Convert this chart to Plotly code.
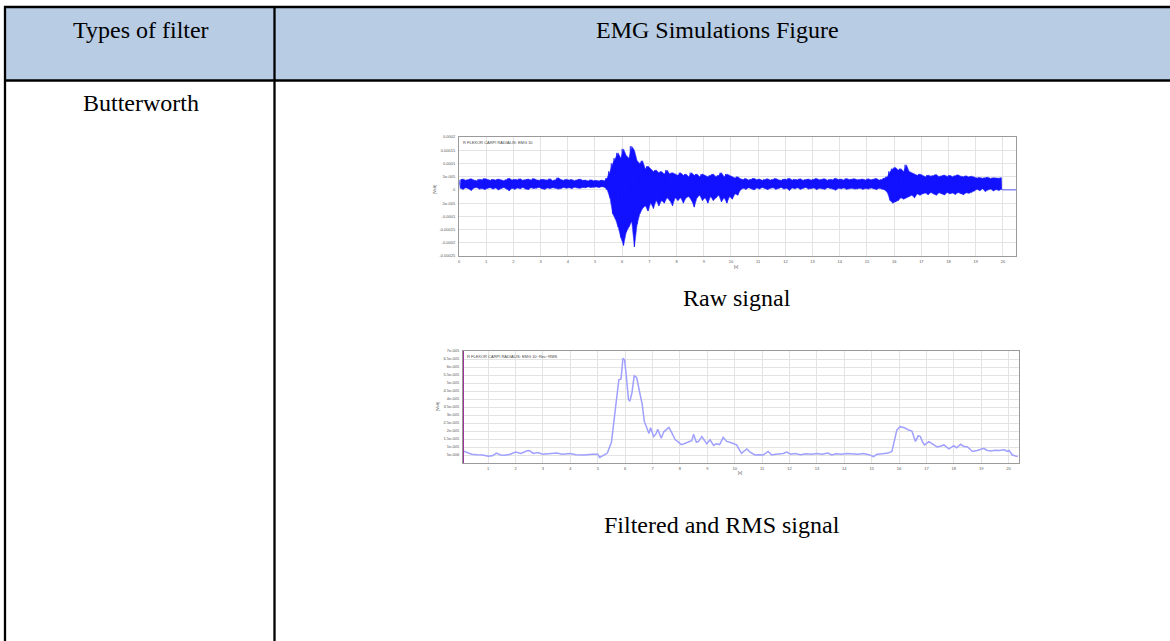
import plotly.graph_objects as go

# ---------------- data ----------------
# Raw EMG: per-0.1 s bin upper / lower envelope (units 1e-5 V), bins start at 0.0 s
raw_bin_start = [round(i * 0.1, 1) for i in range(200)]
raw_hi = [
    # 0.0 - 5.3 s baseline
    3.8,4.1,3.6,3.9,4.2,3.7,3.5,4.0,3.8,4.3, 3.9,3.6,4.0,3.7,4.1,3.8,3.5,3.9,4.4,3.7,
    4.0,3.8,4.2,3.6,3.9,4.1,3.7,4.3,3.8,3.6, 4.0,3.9,3.7,4.2,3.5,3.8,4.6,3.9,3.6,4.0,
    3.7,3.9,3.5,3.8,4.1,3.6,3.7,3.4,3.8,3.5, 3.6,3.4,3.7,3.5,
    # 5.4 - 6.9 s burst
    4.5,7.0,10.0,12.0,14.0,12.0, 15.5,13.0,12.0,16.5,15.0,11.0,10.0,11.0,8.0,9.0,
    # 7.0 - 10.3 s decay
    8.0,7.0,7.5,6.5,7.0,6.0,7.5,6.0,6.5,6.0, 5.5,6.5,5.5,6.0,5.0,6.5,5.5,6.0,5.0,6.0,
    5.5,5.0,5.5,6.0,5.0,5.5,6.5,5.0,6.0,5.5, 5.0,4.5,5.0,4.2,
    # 10.4 - 15.6 s baseline
    3.9,4.3,3.7,4.0,4.4,3.8, 4.1,3.6,4.0,4.2,3.7,3.9,4.3,3.8,3.6,4.1,
    3.9,4.4,3.7,4.0,3.8,4.2,3.6,3.9,4.1,3.7, 4.0,4.3,3.8,3.9,4.2,3.6,4.0,3.8,4.4,3.9,
    4.1,3.7,4.3,3.9,4.0,4.2,3.8,3.9,4.1,3.7, 4.2,3.8,4.0,4.3,3.7,3.9,4.5,
    # 15.7 - 16.9 s second burst
    5.0,7.0,8.0,8.5,7.5,8.0,7.0,9.5,7.0,6.5,6.0,5.5,6.0,
    # 17.0 - 18.9 s
    5.5,5.0,5.6,5.2,5.4,5.8,5.0,5.3,5.6,5.1, 5.5,5.0,5.4,5.7,5.2,5.0,5.3,4.9,5.2,4.8,
    # 19.0 - 19.9 s
    4.5,4.7,4.4,4.6,4.8,4.3,4.6,4.5,4.4,4.6]
raw_lo = [
    0.6,0.2,0.8,0.4,-0.2,0.7,0.9,0.3,0.5,0.1, 0.6,0.8,0.3,0.7,0.0,0.5,0.9,0.4,-0.3,0.6,
    0.2,0.7,0.4,0.9,0.3,0.1,0.8,0.5,0.6,0.9, 0.4,0.2,0.7,0.5,0.8,0.6,0.3,0.5,0.9,0.6,
    0.8,0.5,1.0,0.7,0.6,0.9,0.8,1.1,0.9,1.0, 1.1,0.9,1.2,1.0,
    0.0,-3.0,-9.0,-11.0,-14.0,-18.0, -21.0,-16.0,-14.0,-12.0,-21.5,-13.0,-9.0,-7.0,-6.0,-8.0,
    -5.0,-7.0,-4.0,-6.0,-4.0,-5.0,-3.0,-4.0,-6.0,-3.0, -4.0,-3.0,-5.0,-3.0,-2.5,-4.0,-6.5,-3.0,-2.0,-4.0,
    -3.0,-5.0,-2.5,-4.0,-3.0,-2.0,-4.5,-3.0,-5.0,-2.5, -3.5,-1.5,-2.0,0.0,
    0.6,0.2,0.8,0.4,0.0,0.7, 0.3,0.9,0.5,0.1,0.6,0.8,0.2,0.5,0.9,0.3,
    0.6,-0.2,0.7,0.4,0.8,0.2,0.6,0.9,0.3,0.5, 0.7,0.1,0.6,0.4,0.2,0.8,0.5,0.3,-0.1,0.6,
    0.4,0.7,0.2,0.5,0.6,0.3,0.4,0.6,0.2,0.5, 0.3,0.7,0.4,0.1,0.6,0.3,0.0,
    -1.0,-4.0,-5.0,-4.5,-4.0,-3.0,-3.5,-3.0,-2.5,-2.0,-3.0,-1.5,-2.0,
    -1.5,-1.2,-1.8,-1.0,-1.6,-2.0,-1.1,-1.4,-1.9,-1.0, -1.5,-1.2,-1.7,-1.0,-1.4,-1.8,-1.1,-1.3,-0.9,-0.5,
    0.2,-0.3,0.4,-0.6,0.0,0.3,-0.4,0.1,-0.2,0.2]
raw_tail_t = [20.0, 20.48]
raw_tail_v = [0.0, 0.0]

# RMS envelope (units 1e-5 V)
rms_t = [0.08,0.2,0.4,0.6,0.8,1.0,1.15,1.3,1.45,1.6,1.8,2.0,2.2,2.4,2.5,2.65,2.8,3.0,3.2,3.5,
         3.7,4.0,4.2,4.5,4.8,5.0,5.07,5.2,5.35,5.5,5.6,5.7,5.77,5.85,5.92,5.98,6.05,6.12,6.17,6.25,
         6.33,6.42,6.52,6.62,6.7,6.8,6.87,6.93,7.04,7.12,7.19,7.26,7.32,7.41,7.5,7.6,7.7,7.83,7.95,8.05,
         8.15,8.31,8.43,8.5,8.6,8.68,8.8,8.9,8.98,9.1,9.23,9.32,9.45,9.58,9.71,9.85,10.07,10.18,10.25,10.35,
         10.44,10.55,10.74,10.9,11.04,11.22,11.35,11.5,11.77,11.9,12.05,12.2,12.4,12.6,12.8,13.0,13.2,13.4,13.55,13.7,
         13.9,14.1,14.3,14.5,14.7,14.9,15.07,15.2,15.4,15.6,15.74,15.85,15.92,16.04,16.2,16.35,16.47,16.55,16.6,16.7,
         16.78,16.86,16.93,17.09,17.25,17.39,17.5,17.64,17.82,17.9,18.0,18.1,18.25,18.35,18.5,18.68,18.85,19.1,19.2,19.35,
         19.5,19.65,19.84,19.95,20.02,20.14,20.33]
rms_v = [0.75,0.68,0.55,0.52,0.5,0.42,0.45,0.62,0.5,0.48,0.55,0.68,0.6,0.75,0.78,0.6,0.65,0.55,0.58,0.62,
         0.55,0.6,0.52,0.5,0.55,0.54,0.35,0.5,0.62,1.3,2.6,4.2,5.2,5.25,6.55,6.45,5.3,4.0,3.85,4.4,
         5.45,5.35,4.5,3.7,2.6,2.1,1.85,2.2,1.65,1.8,2.1,1.8,1.55,1.95,2.1,2.22,1.9,1.45,1.3,1.15,
         1.2,1.33,1.4,1.8,1.3,1.35,1.65,1.4,1.2,1.45,1.1,1.2,1.15,1.6,1.35,1.28,1.13,0.8,0.6,0.75,
         0.88,0.7,0.5,0.52,0.5,0.72,0.5,0.55,0.6,0.68,0.55,0.6,0.52,0.58,0.55,0.6,0.55,0.62,0.5,0.58,
         0.55,0.6,0.58,0.55,0.6,0.52,0.4,0.55,0.58,0.62,0.72,1.5,2.06,2.27,2.2,2.06,2.0,1.6,1.35,1.7,
         1.65,1.3,1.13,1.33,1.15,1.0,1.05,1.13,0.88,0.95,1.08,0.95,1.17,1.05,1.0,0.72,0.78,0.92,0.8,0.75,
         0.8,0.78,0.82,0.72,0.78,0.5,0.4]

raw_yticks = [0.0002, 0.00015, 0.0001, 0.00005, 0, -0.00005, -0.0001, -0.00015, -0.0002, -0.00025]
raw_yticklabels = ["0.0002", "0.00015", "0.0001", "5e-005", "0", "-5e-005", "-0.0001",
                   "-0.00015", "-0.0002", "-0.00025"]
rms_yticks = [0.000005, 0.00001, 0.000015, 0.00002, 0.000025, 0.00003, 0.000035, 0.00004,
              0.000045, 0.00005, 0.000055, 0.00006, 0.000065, 0.00007]
rms_yticklabels = ["5e-006", "1e-005", "1.5e-005", "2e-005", "2.5e-005", "3e-005", "3.5e-005",
                   "4e-005", "4.5e-005", "5e-005", "5.5e-005", "6e-005", "6.5e-005", "7e-005"]
raw_xticks = list(range(0, 21))
rms_xticks = list(range(1, 21))

header_cols = ["Types of filter", "EMG Simulations Figure"]
row_label = "Butterworth"
captions = ["Raw signal", "Filtered and RMS signal"]
chart_titles = ["R FLEXOR CARPI RADIALIS: EMG 10", "R FLEXOR CARPI RADIALIS: EMG 10~Rec~RMS"]

assert len(raw_hi) == len(raw_bin_start) == len(raw_lo)
assert len(rms_t) == len(rms_v)

# ---------------- build ----------------
W, H = 1170, 641
def px(x):
    return x / W
def py(y):
    return 1 - y / H

# band polygon (upper envelope forward, lower envelope back)
band_x = [t + 0.05 for t in raw_bin_start] + [t + 0.05 for t in raw_bin_start][::-1]
band_y = [h * 1e-5 for h in raw_hi] + [l * 1e-5 for l in raw_lo][::-1]

# zigzag between per-bin envelope values (dense signal rendering)
zx, zy = [], []
for t, h, l in zip(raw_bin_start, raw_hi, raw_lo):
    zx += [t, t + 0.05]
    zy += [h * 1e-5, l * 1e-5]
zx += raw_tail_t
zy += raw_tail_v

fig = go.Figure()
fig.add_trace(go.Scatter(x=band_x, y=band_y, mode="lines", fill="toself", fillcolor="#1010ff",
                         line=dict(color="#3a3aff", width=0.6), xaxis="x", yaxis="y", hoverinfo="skip"))
fig.add_trace(go.Scatter(x=zx, y=zy, mode="lines", line=dict(color="rgba(20,20,255,0.75)", width=0.9),
                         xaxis="x", yaxis="y", hoverinfo="skip"))
fig.add_trace(go.Scatter(x=rms_t, y=[v * 1e-5 for v in rms_v], mode="lines",
                         line=dict(color="#a0a0ff", width=1.5), xaxis="x2", yaxis="y2"))

tickfont = dict(family="Liberation Sans", size=4, color="#555")
common = dict(showgrid=True, gridcolor="#e3e3e3", gridwidth=1, zeroline=False,
              showline=True, linecolor="#9a9a9a", linewidth=1, mirror=True,
              ticks="", tickfont=tickfont, automargin=False)

fig.update_layout(
    width=W, height=H, margin=dict(l=0, r=0, t=0, b=0),
    paper_bgcolor="white", plot_bgcolor="white", showlegend=False, template="none",
    xaxis=dict(domain=[px(459), px(1016)], anchor="y", range=[0, 20.48],
               tickvals=raw_xticks, ticklabelstandoff=1, **common),
    yaxis=dict(domain=[py(256), py(137)], anchor="x", range=[-0.00025, 0.0002],
               tickvals=raw_yticks, ticktext=raw_yticklabels, ticklabelstandoff=2, **common),
    xaxis2=dict(domain=[px(463), px(1019)], anchor="y2", range=[0.08, 20.38],
                tickvals=rms_xticks, ticklabelstandoff=1, **common),
    yaxis2=dict(domain=[py(463), py(351)], anchor="x2", range=[0, 0.00007],
                tickvals=rms_yticks, ticktext=rms_yticklabels, ticklabelstandoff=2, **common),
)

shapes = []
# header fill
shapes.append(dict(type="rect", xref="paper", yref="paper", x0=px(5), x1=1.01, y0=py(80.5), y1=py(7),
                   fillcolor="#b8cce4", line=dict(width=0), layer="below"))
lc = dict(color="black", width=2.3)
shapes.append(dict(type="line", xref="paper", yref="paper", x0=px(4), x1=1.01, y0=py(7), y1=py(7), line=lc))
shapes.append(dict(type="line", xref="paper", yref="paper", x0=px(4), x1=1.01, y0=py(80.5), y1=py(80.5), line=lc))
shapes.append(dict(type="line", xref="paper", yref="paper", x0=px(5), x1=px(5), y0=py(6), y1=-0.01, line=lc))
shapes.append(dict(type="line", xref="paper", yref="paper", x0=px(274.5), x1=px(274.5), y0=py(6), y1=-0.01, line=lc))
# purple marker line at start of RMS chart
shapes.append(dict(type="line", xref="x2", yref="y2", x0=0.08, x1=0.08, y0=0, y1=0.00007,
                   line=dict(color="#993399", width=2)))
fig.update_layout(shapes=shapes)

serif = dict(family="Liberation Serif", size=24, color="black")
tiny = dict(family="Liberation Sans", size=4, color="#444")
ann = [
    dict(x=px(141), y=py(30), text=header_cols[0], font=serif),
    dict(x=px(717), y=py(30), text=header_cols[1], font=serif),
    dict(x=px(141), y=py(103), text=row_label, font=serif),
    dict(x=px(737), y=py(298), text=captions[0], font=serif),
    dict(x=px(722), y=py(525), text=captions[1], font=serif),
    dict(x=px(461), y=py(137.5), text=chart_titles[0], font=tiny, xanchor="left", yanchor="top"),
    dict(x=px(465), y=py(351.5), text=chart_titles[1], font=tiny, xanchor="left", yanchor="top"),
    dict(x=px(736), y=py(266), text="[s]", font=tiny),
    dict(x=px(740), y=py(472), text="[s]", font=tiny),
    dict(x=px(434), y=py(190), text="[Volt]", font=tiny, textangle=-90),
    dict(x=px(437), y=py(407), text="[Volt]", font=tiny, textangle=-90),
]
for a in ann:
    a.setdefault("xref", "paper")
    a.setdefault("yref", "paper")
    a.setdefault("showarrow", False)
    a.setdefault("xanchor", "center")
    a.setdefault("yanchor", "middle")
fig.update_layout(annotations=ann)

fig.write_html("out.html")
